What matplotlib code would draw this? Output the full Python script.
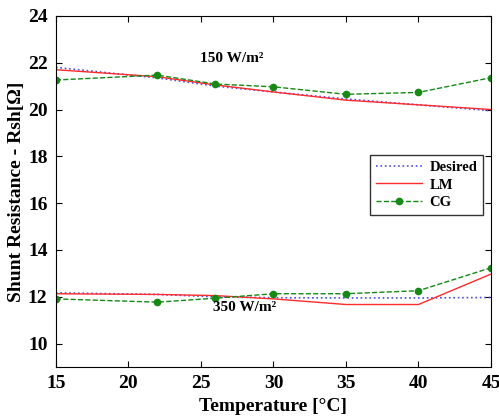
import matplotlib.pyplot as plt

plt.rcParams['font.family'] = ['Liberation Serif', 'DejaVu Serif']
plt.rcParams['font.weight'] = 'bold'

temps = [15, 22, 26, 30, 35, 40, 45]

# 150 W/m2
desired_150 = [21.8, 21.35, 21.0, 20.75, 20.45, 20.2, 19.95]
lm_150 = [21.7, 21.4, 21.05, 20.75, 20.4, 20.2, 20.0]
cg_150 = [21.26, 21.47, 21.09, 20.97, 20.65, 20.73, 21.36]

# 350 W/m2
desired_350 = [12.17, 12.1, 12.0, 11.96, 11.95, 11.95, 11.97]
lm_350 = [12.13, 12.1, 12.05, 11.91, 11.67, 11.67, 12.97]
cg_350 = [11.91, 11.77, 11.94, 12.13, 12.13, 12.26, 13.24]

fig = plt.figure(figsize=(4.99, 4.18), dpi=100)
ax = fig.add_axes([0.112, 0.122, 0.872, 0.84])

ax.plot(temps, desired_150, color='#4a4aff', linestyle=':', linewidth=1.2, label='Desired')
ax.plot(temps, lm_150, color='#ff2a2a', linestyle='-', linewidth=1.0, label='LM')
ax.plot(temps, cg_150, color='#138a13', linestyle='--', linewidth=1.0,
        marker='o', markersize=4.5, label='CG')

ax.plot(temps, desired_350, color='#4a4aff', linestyle=':', linewidth=1.2)
ax.plot(temps, lm_350, color='#ff2a2a', linestyle='-', linewidth=1.0)
ax.plot(temps, cg_350, color='#138a13', linestyle='--', linewidth=1.0,
        marker='o', markersize=4.5)

ax.set_xlim(15, 45)
ax.set_ylim(9, 24)
ax.set_xticks([15, 20, 25, 30, 35, 40, 45])
ax.set_yticks([10, 12, 14, 16, 18, 20, 22, 24])
ax.tick_params(direction='in', top=True, right=True, labelsize=14, length=4, pad=6)
for lbl in ax.get_xticklabels() + ax.get_yticklabels():
    lbl.set_fontweight('bold')

ax.set_xlabel('Temperature [°C]', fontsize=14, fontweight='bold', labelpad=4)
ax.set_ylabel('Shunt Resistance - Rsh[Ω]', fontsize=14, fontweight='bold', labelpad=2)

ax.text(27.1, 22.2, '150 W/m²', fontsize=11, fontweight='bold', ha='center', va='center')
ax.text(25.8, 11.55, '350 W/m²', fontsize=11, fontweight='bold', ha='left', va='center')

leg = ax.legend(loc='upper right', bbox_to_anchor=(0.982, 0.604), borderaxespad=0,
                fontsize=10.5, frameon=True, fancybox=False, edgecolor='#333333',
                framealpha=1, handlelength=3.2, borderpad=0.4, labelspacing=0.3,
                handletextpad=0.5)
leg.get_frame().set_linewidth(1.0)
for t in leg.get_texts():
    t.set_fontweight('bold')

fig.savefig('out.png', dpi=100)
